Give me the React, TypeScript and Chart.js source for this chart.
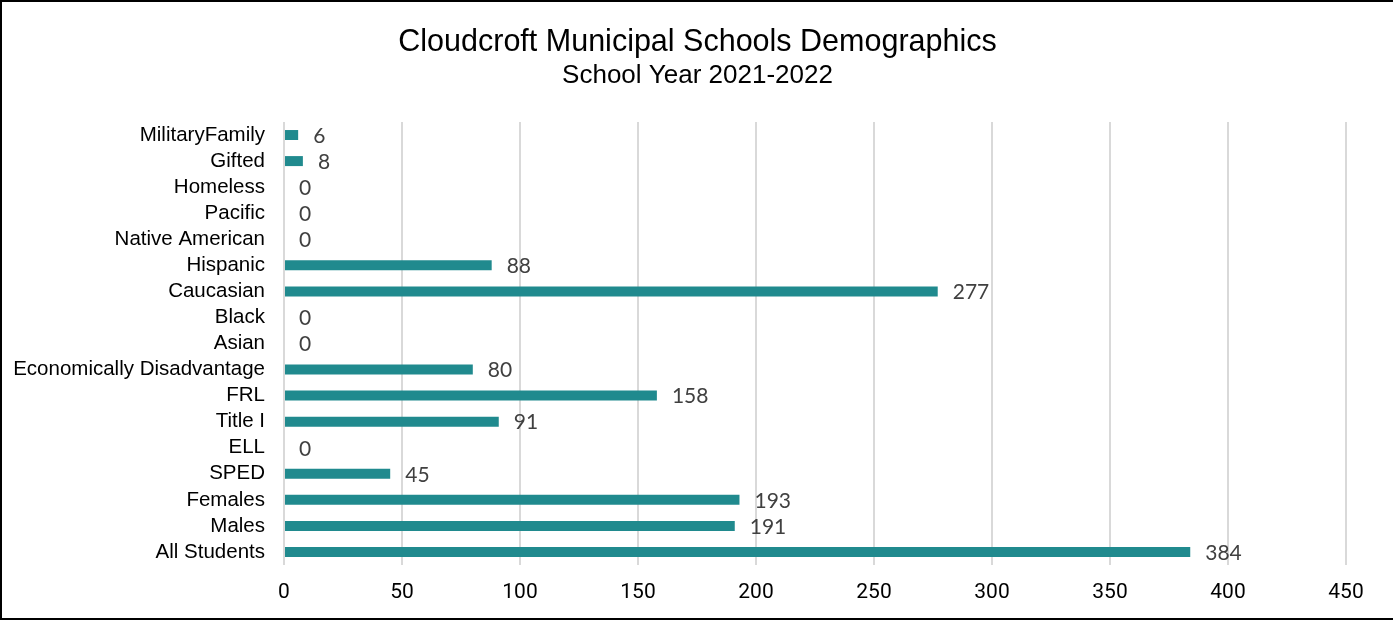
import React, { useEffect, useRef } from "react";
import { Chart, registerables } from "chart.js";

Chart.register(...registerables);

const categories: string[] = [
  "MilitaryFamily",
  "Gifted",
  "Homeless",
  "Pacific",
  "Native American",
  "Hispanic",
  "Caucasian",
  "Black",
  "Asian",
  "Economically Disadvantage",
  "FRL",
  "Title I",
  "ELL",
  "SPED",
  "Females",
  "Males",
  "All Students",
];

const studentCounts: number[] = [6, 8, 0, 0, 0, 88, 277, 0, 0, 80, 158, 91, 0, 45, 193, 191, 384];

const titleText = "Cloudcroft Municipal Schools Demographics";
const subtitleText = "School Year 2021-2022";
const xTickMin = 0;
const xTickMax = 450;
const xTickStep = 50;

const SANS = "'Liberation Sans Narrow', 'Liberation Sans', Arial, sans-serif";

const titlePlugin = {
  id: "customTitles",
  afterDraw(chart: any) {
    const ctx = chart.ctx;
    const cx = chart.width / 2 + 1;
    ctx.save();
    ctx.fillStyle = "#000000";
    ctx.textAlign = "center";
    ctx.textBaseline = "middle";
    ctx.font = `30.5px ${SANS}`;
    ctx.fillText(titleText, cx, 43);
    ctx.font = `26px ${SANS}`;
    ctx.fillText(subtitleText, cx, 76);
    ctx.restore();
  },
};

const dataLabelPlugin = {
  id: "dataLabels",
  afterDatasetsDraw(chart: any) {
    const ctx = chart.ctx;
    const meta = chart.getDatasetMeta(0);
    const data = chart.data.datasets[0].data as number[];
    ctx.save();
    ctx.font = "21px Lato, 'Open Sans', sans-serif";
    ctx.fillStyle = "#404040";
    ctx.textAlign = "left";
    ctx.textBaseline = "middle";
    meta.data.forEach((el: any, i: number) => {
      ctx.fillText(String(data[i]), el.x + 15, el.y + 1);
    });
    ctx.restore();
  },
};

export default function App() {
  const canvasRef = useRef<HTMLCanvasElement | null>(null);

  useEffect(() => {
    if (!canvasRef.current) return;
    const chart = new Chart(canvasRef.current, {
      type: "bar",
      data: {
        labels: categories,
        datasets: [
          {
            data: studentCounts,
            backgroundColor: "#208A8E",
            borderWidth: 0,
            inflateAmount: 0,
            barThickness: 10,
          },
        ],
      },
      options: {
        indexAxis: "y",
        animation: false,
        responsive: true,
        maintainAspectRatio: false,
        layout: { padding: { left: 0, right: 47, top: 122, bottom: 0 } },
        plugins: {
          legend: { display: false },
          tooltip: { enabled: false },
          title: { display: false },
        },
        scales: {
          x: {
            type: "linear",
            min: xTickMin,
            max: xTickMax,
            ticks: {
              stepSize: xTickStep,
              color: "#000000",
              font: { family: "Roboto, 'Open Sans', sans-serif", size: 21 },
              padding: 15,
            },
            grid: { color: "#D9D9D9", lineWidth: 2, drawTicks: false },
            border: { display: false },
            afterFit(scale: any) {
              scale.height = 55;
            },
          },
          y: {
            type: "category",
            ticks: {
              color: "#000000",
              font: { family: SANS, size: 20.5 },
              padding: 19,
              autoSkip: false,
            },
            grid: { display: false, drawTicks: false },
            border: { display: false },
            afterFit(scale: any) {
              scale.width = 284;
            },
          },
        },
      },
      plugins: [dataLabelPlugin, titlePlugin],
    });
    return () => chart.destroy();
  }, []);

  return (
    <div style={{ position: "fixed", left: 0, top: 0, width: 1393, height: 620, background: "#ffffff", overflow: "hidden" }}>
      <canvas ref={canvasRef} />
      <div
        style={{
          position: "absolute",
          left: 0,
          top: 0,
          width: 1420,
          height: 620,
          boxSizing: "border-box",
          borderTop: "2px solid #000",
          borderLeft: "2px solid #000",
          borderBottom: "2px solid #000",
          pointerEvents: "none",
        }}
      />
    </div>
  );
}
